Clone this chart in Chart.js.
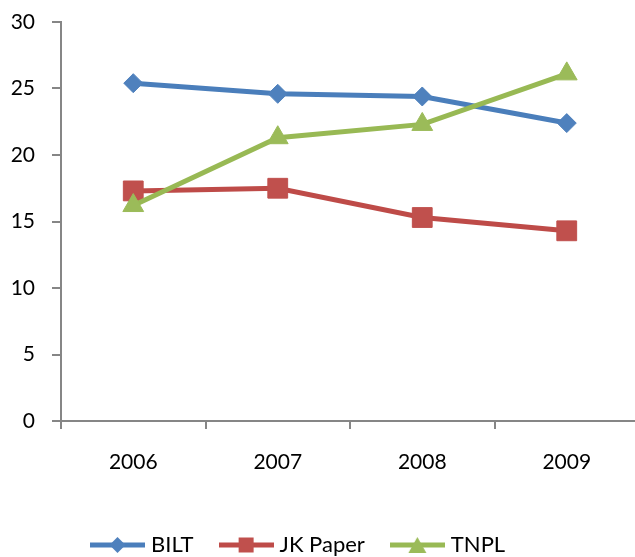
<!DOCTYPE html>
<html>
<head>
<meta charset="utf-8">
<script src="https://cdn.jsdelivr.net/npm/chart.js@4/dist/chart.umd.min.js"></script>
<style>
  html, body { margin: 0; padding: 0; background: #fff; overflow: hidden; }
  #wrap { width: 645px; height: 557px; }
</style>
</head>
<body>
<div id="wrap"><canvas id="chart" width="645" height="557"></canvas></div>
<script>
// data
const years = ["2006", "2007", "2008", "2009"];
const bilt = [25.4, 24.6, 24.4, 22.4];
const jkPaper = [17.3, 17.5, 15.3, 14.3];
const tnpl = [16.2, 21.3, 22.3, 26.1];
const yTicks = [0, 5, 10, 15, 20, 25, 30];

const FONT = { family: "Lato, 'Open Sans', sans-serif", size: 21 };
const LEGEND_FONT = { family: "Lato, 'Open Sans', sans-serif", size: 22 };
const AXIS_GREY = "#868686";
const LEGEND_PAD = 30;

// small canvases for the legend: line with marker in the middle
function legendIcon(color, markerColor, shape) {
  const c = document.createElement("canvas");
  c.width = 55;
  c.height = 22;
  const g = c.getContext("2d");
  g.strokeStyle = color;
  g.lineWidth = 5;
  g.beginPath();
  g.moveTo(0, 11);
  g.lineTo(55, 11);
  g.stroke();
  g.fillStyle = markerColor;
  g.beginPath();
  if (shape === "diamond") {
    g.moveTo(27.5, 3); g.lineTo(35.5, 11); g.lineTo(27.5, 19); g.lineTo(19.5, 11);
  } else if (shape === "square") {
    g.rect(20, 3.5, 15, 15);
  } else {
    g.moveTo(27.5, 3); g.lineTo(36.5, 19); g.lineTo(18.5, 19);
  }
  g.closePath();
  g.fill();
  return c;
}

const icons = [
  legendIcon("#4A7EBB", "#4F81BD", "diamond"),
  legendIcon("#BE4B48", "#C0504D", "square"),
  legendIcon("#98B954", "#9BBB59", "triangle")
];

// move the legend to where the original had it
const legendPlace = {
  id: "legendPlace",
  afterLayout(chart) {
    const lg = chart.legend;
    const w = lg.right - lg.left;
    const h = lg.bottom - lg.top;
    lg.left = 95 - LEGEND_PAD;
    lg.right = lg.left + w;
    lg.top = 545 - LEGEND_PAD - LEGEND_FONT.size / 2;
    lg.bottom = lg.top + h;
  }
};

new Chart(document.getElementById("chart"), {
  type: "line",
  data: {
    labels: years,
    datasets: [
      {
        label: "BILT",
        data: bilt,
        borderColor: "#4A7EBB",
        backgroundColor: "#4F81BD",
        pointBackgroundColor: "#4F81BD",
        pointBorderColor: "#4F81BD",
        pointStyle: "rectRot",
        pointRadius: 9.5,
        pointBorderWidth: 1,
        borderWidth: 5,
        order: 2
      },
      {
        label: "JK Paper",
        data: jkPaper,
        borderColor: "#BE4B48",
        backgroundColor: "#C0504D",
        pointBackgroundColor: "#C0504D",
        pointBorderColor: "#C0504D",
        pointStyle: "rect",
        pointRadius: 14,
        pointBorderWidth: 1,
        borderWidth: 5,
        order: 1
      },
      {
        label: "TNPL",
        data: tnpl,
        borderColor: "#98B954",
        backgroundColor: "#9BBB59",
        pointBackgroundColor: "#9BBB59",
        pointBorderColor: "#9BBB59",
        pointStyle: "triangle",
        pointRadius: 12,
        pointBorderWidth: 1,
        borderWidth: 5,
        order: 0
      }
    ]
  },
  options: {
    responsive: false,
    animation: false,
    events: [],
    layout: { autoPadding: false, padding: { top: 22, right: 6, left: 0, bottom: 0 } },
    plugins: {
      title: { display: false },
      tooltip: { enabled: false },
      legend: {
        position: "bottom",
        align: "start",
        labels: {
          usePointStyle: true,
          pointStyleWidth: 45,
          padding: LEGEND_PAD,
          color: "#000",
          font: LEGEND_FONT,
          generateLabels: chart => chart.data.datasets.map((ds, i) => ({
            text: ds.label,
            pointStyle: icons[i],
            fillStyle: ds.borderColor,
            strokeStyle: ds.borderColor,
            lineWidth: 0,
            hidden: false,
            datasetIndex: i,
            fontColor: "#000"
          }))
        }
      }
    },
    scales: {
      x: {
        offset: true,
        grid: {
          offset: true,
          drawOnChartArea: false,
          tickLength: 8,
          color: AXIS_GREY,
          lineWidth: 2
        },
        border: { color: AXIS_GREY, width: 2 },
        ticks: { color: "#000", font: FONT, padding: 21, maxRotation: 0 },
        afterFit: s => {
          s.height = 74;
          s.paddingLeft = 0;
          s.paddingRight = 0;
        }
      },
      y: {
        min: 0,
        max: 30,
        grid: {
          drawOnChartArea: false,
          tickLength: 9,
          color: AXIS_GREY,
          lineWidth: 2
        },
        border: { color: AXIS_GREY, width: 2 },
        afterBuildTicks: s => { s.ticks = yTicks.map(v => ({ value: v })); },
        ticks: { color: "#000", font: FONT, padding: 17 },
        afterFit: s => {
          s.width = 61;
          s.paddingTop = 0;
          s.paddingBottom = 0;
        }
      }
    }
  },
  plugins: [legendPlace]
});
</script>
</body>
</html>
